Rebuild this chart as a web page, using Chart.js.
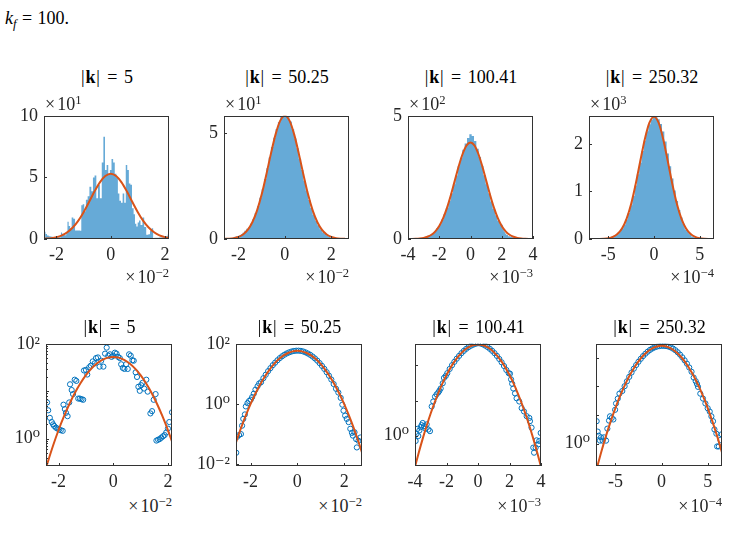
<!DOCTYPE html>
<html lang="en">
<head>
<meta charset="UTF-8">
<title>Histograms and Gaussian fits</title>
<script src="https://cdn.jsdelivr.net/npm/chart.js"></script>
<style>
  body { margin: 0; background: #fff; }
  #fig { position: relative; width: 730px; height: 560px; overflow: hidden;
         font-family: "Liberation Serif", "DejaVu Serif", serif; color: #262626; }
  #fig canvas { position: absolute; }
  .lbl { position: absolute; font-size: 18px; line-height: 1; white-space: nowrap; }
  .lbl sup { font-size: 0.7em; vertical-align: 0.5em; line-height: 0; }
  .lbl sub { font-size: 0.7em; vertical-align: -0.3em; line-height: 0; }
  .ttl { color: #000; transform: translate(-50%, -50%); }
  .ttl .eq { margin: 0 0.36em; }
  .ttl .bar { margin: 0 0.05em; }
  .times { margin-right: 0.12em; }
  .ey { transform: translate(0, -50%); }
  .ex { transform: translate(-100%, -50%); }
</style>
</head>
<body>
<div id="fig">
  <div class="lbl" style="left:5px;top:9px;color:#000"><i>k</i><sub><i>f</i></sub><span style="margin:0 0.3em">=</span>100.</div>
</div>

<script>
// |k| = 5  (x in units of 1e-2, y = pdf)
const k5X = [-2.42,-2.38,-2.32,-2.25,-2.2,-2.16,-2.1,-2.04,-1.98,-1.92,-1.85,-1.82,-1.77,-1.73,-1.67,-1.61,-1.58,-1.52,-1.47,-1.41,-1.35,-1.28,-1.22,-1.16,-1.1,-1.07,-1.0,-0.95,-0.88,-0.82,-0.75,-0.68,-0.63,-0.56,-0.5,-0.44,-0.36,-0.3,-0.24,-0.18,-0.12,-0.06,0,0.06,0.12,0.18,0.24,0.29,0.35,0.41,0.47,0.53,0.58,0.64,0.7,0.75,0.82,0.87,0.92,0.97,1.02,1.07,1.13,1.21,1.26,1.36,1.42,1.48,1.55,1.58,1.64,1.7,1.76,1.82,1.88,1.94,2.0,2.05,2.15];
const k5Y = [5.8,3.96,2.75,2.24,2.0,1.85,1.71,1.63,1.56,1.51,1.46,5.2,4.2,3.5,2.98,5.8,14,10.6,8.7,17.5,16.5,7.0,7.0,6.8,6.6,27.4,28.2,22.5,31.9,34.6,42.5,38.7,50,51.6,33,44,33,62,83,56,60,53,56,65,62,53,50,37,31,29.5,37,29.5,60,56,45,44,25,20,12.4,10.2,13.4,15,11.4,17.5,9.8,3.4,3.8,6.6,8.7,0.91,0.95,0.98,1.05,1.12,1.19,1.35,1.63,2.24,3.6];
const k5FitX = [-2.46,-2.2,-2.0,-1.8,-1.6,-1.4,-1.2,-1.0,-0.8,-0.6,-0.4,-0.2,0,0.2,0.4,0.6,0.8,1.0,1.2,1.4,1.6,1.8,2.0,2.15];
const k5FitY = [0.244,0.716,1.52,2.97,5.44,9.29,14.7,21.8,30.0,38.5,46.0,51.1,53.0,51.1,46.0,38.5,30.0,21.8,14.7,9.29,5.44,2.97,1.52,0.871];

// |k| = 50.25  (x in units of 1e-2)
const k50X = [-2.61,-2.57,-2.49,-2.41,-2.36,-2.31,-2.24,-2.2,-2.13,-2.06,-1.99,-1.93,-1.86,-1.79,-1.7,-1.63,-1.55,-1.45,-1.35,-1.25,-1.15,-1.05,-0.95,-0.85,-0.75,-0.65,-0.55,-0.45,-0.35,-0.25,-0.15,-0.05,0.05,0.15,0.25,0.35,0.45,0.55,0.65,0.75,0.85,0.95,1.05,1.15,1.25,1.35,1.45,1.55,1.65,1.75,1.85,1.92,1.97,2.04,2.11,2.19,2.26,2.33,2.37,2.44,2.51,2.54,2.61,2.69];
const k50Y = [0.024,0.081,0.093,0.1,0.19,0.32,0.45,0.83,1.07,1.26,1.39,1.7,2.2,3.0,3.9,4.8,5.3,7.2,9.4,12.3,15.5,19.5,23.6,28.4,33.5,38.6,43.5,47.9,52.0,55.4,57.8,59.0,59.2,58.1,55.6,51.9,47.6,42.9,37.8,32.6,27.6,22.8,18.5,14.7,11.4,8.7,6.5,4.6,3.2,2.4,1.6,0.95,0.6,0.41,0.32,0.25,0.15,0.11,0.089,0.115,0.068,0.036,0.06,0.077];
const k50FitX = [-2.62,-2.4,-2.2,-2.0,-1.8,-1.6,-1.4,-1.2,-1.0,-0.8,-0.6,-0.4,-0.2,0,0.2,0.4,0.6,0.8,1.0,1.2,1.4,1.6,1.8,2.0,2.2,2.4,2.6,2.76];
const k50FitY = [0.0532,0.164,0.418,0.986,2.14,4.28,7.90,13.4,21.0,30.4,40.4,49.5,56.0,58.3,56.0,49.5,40.4,30.4,21.0,13.4,7.90,4.28,2.14,0.986,0.418,0.164,0.0589,0.0246];

// |k| = 100.41  (x in units of 1e-3)
const k100X = [-3.96,-3.9,-3.85,-3.79,-3.72,-3.64,-3.58,-3.51,-3.43,-3.34,-3.26,-3.15,-3.05,-2.94,-2.84,-2.73,-2.63,-2.52,-2.45,-2.37,-2.24,-2.16,-2.05,-1.95,-1.8,-1.65,-1.5,-1.35,-1.2,-1.05,-0.9,-0.75,-0.6,-0.45,-0.3,-0.15,0,0.15,0.3,0.45,0.6,0.75,0.9,1.05,1.2,1.35,1.5,1.65,1.8,1.95,2.03,2.1,2.17,2.24,2.35,2.45,2.62,2.77,2.92,3.09,3.26,3.3,3.4,3.51,3.56,3.66,3.72,3.83,3.89,3.98];
const k100Y = [0.71,1.14,1.57,0.98,1.41,1.75,2.0,2.3,1.87,1.6,2.1,1.5,1.35,6.8,9.4,12.9,15,17,19,22,31,44,50,60,79,101,126,155,186,222,258,295,330,362,388,410,425,418,398,366,333,296,259,222,186,152,122,96,74,60,58,40,30,22,16,11.6,9.4,6.1,4.9,3.6,3.2,2.6,1.7,0.46,0.33,0.46,0.74,0.57,0.71,1.2];
const k100FitX = [-4,-3.75,-3.5,-3.25,-3,-2.75,-2.5,-2.25,-2,-1.75,-1.5,-1.25,-1,-0.75,-0.5,-0.25,0,0.25,0.5,0.75,1,1.25,1.5,1.75,2,2.25,2.5,2.75,3,3.25,3.5,3.75,4];
const k100FitY = [0.131,0.346,0.857,1.99,4.36,8.93,17.2,31.2,53.0,84.8,127.3,179.5,238,296,346,380,392,380,346,296,238,179.5,127.3,84.8,53.0,31.2,17.2,8.93,4.36,1.99,0.857,0.346,0.131];

// |k| = 250.32  (x in units of 1e-4)
const k250X = [-7.03,-6.92,-6.81,-6.67,-6.56,-6.38,-6.23,-6.01,-5.87,-5.69,-5.58,-5.4,-5.22,-5.03,-4.93,-4.74,-4.56,-4.25,-4.0,-3.75,-3.5,-3.25,-3.0,-2.75,-2.5,-2.25,-2.0,-1.75,-1.5,-1.25,-1.0,-0.75,-0.5,-0.25,0,0.25,0.5,0.75,1.0,1.25,1.5,1.75,2.0,2.25,2.5,2.75,3.0,3.25,3.48,3.7,3.84,3.95,4.2,4.49,4.75,5.0,5.22,5.4,5.58,5.73,5.94,6.02,6.2,6.38,6.52];
const k250Y = [6.0,2.6,1.87,1.26,1.64,1.26,1.64,1.26,3.3,6.3,8.9,7.8,6.9,15,25,37,55,68,100,148,212,300,410,548,712,905,1125,1360,1605,1850,2070,2265,2410,2510,2555,2560,2520,2420,2260,2050,1800,1530,1270,1020,800,610,450,320,200,150,120,95,55,37,25,17,13,8.9,6.0,3.1,2.2,0.79,0.79,1.33,2.1];
const k250FitX = [-7.1,-6.5,-6,-5.5,-5,-4.5,-4,-3.5,-3,-2.5,-2,-1.5,-1,-0.5,0,0.5,1,1.5,2,2.5,3,3.5,4,4.5,5,5.5,6,6.5,6.55];
const k250FitY = [0.107,0.55,1.92,6.06,17.3,44.8,104.8,222,425,736,1155,1639,2104,2445,2570,2445,2104,1639,1155,736,425,222,104.8,44.8,17.3,6.06,1.92,0.55,0.483];

const kLabels = ['5', '50.25', '100.41', '250.32'];
const histX = [k5X, k50X, k100X, k250X];
const histY = [k5Y, k50Y, k100Y, k250Y];
const fitX = [k5FitX, k50FitX, k100FitX, k250FitX];
const fitY = [k5FitY, k50FitY, k100FitY, k250FitY];

const xRanges = [[-2.46, 2.15], [-2.62, 2.76], [-4, 4], [-7.1, 6.55]];
const xTicks = [[-2, 0, 2], [-2, 0, 2], [-4, -2, 0, 2, 4], [-5, 0, 5]];
const xExp = ['−2', '−2', '−3', '−4'];

const histYMax = [100, 58.3, 500, 2590];
const histYTicks = [[0, 50, 100], [0, 50], [0, 500], [0, 1000, 2000]];
const histYExp = [1, 1, 2, 3];

const logYRanges = [[0.265, 100], [0.0087, 100], [0.138, 410], [0.164, 3020]];
const logYLabels = [[1, 100], [0.01, 1, 100], [1], [1]];
const logYMarks = [[1, 10, 100], [0.01, 1, 100], [1, 10, 100], [1, 10, 100, 1000]];
const logYMinor = [true, false, false, false];

// plot-area boxes
const topBoxes = [{x: 44, y: 113, w: 125, h: 126}, {x: 224, y: 113, w: 125, h: 126},
                  {x: 408, y: 113, w: 125, h: 126}, {x: 589, y: 113, w: 125, h: 126}];
const botBoxes = [{x: 46, y: 341, w: 126, h: 125}, {x: 236, y: 341, w: 126, h: 125},
                  {x: 415, y: 341, w: 126, h: 125}, {x: 596, y: 341, w: 126, h: 125}];

const fig = document.getElementById('fig');
const inkColor = '#262626';
const tickFont = {family: "'Liberation Serif', 'DejaVu Serif', serif", size: 18};
const blue = 'rgba(0,114,189,0.6)';
const orange = '#D95319';

function pts(xs, ys) { return xs.map((x, i) => ({x: x, y: ys[i]})); }

function supText(n) {
  const m = {'-': '⁻', '0': '⁰', '1': '¹', '2': '²', '3': '³', '4': '⁴'};
  return String(n).split('').map(c => m[c]).join('');
}

// axes box + inward tick marks
const frame = {
  id: 'frame',
  afterDraw(chart, args, o) {
    const ctx = chart.ctx, a = chart.chartArea;
    const xs = chart.scales.x, ys = chart.scales.y;
    ctx.save();
    ctx.strokeStyle = '#333';
    ctx.lineWidth = 1;
    ctx.beginPath();
    o.xMarks.forEach(v => {
      const p = Math.round(xs.getPixelForValue(v)) + 0.5;
      ctx.moveTo(p, a.bottom); ctx.lineTo(p, a.bottom - 3);
    });
    o.yMarks.forEach(v => {
      const p = Math.round(ys.getPixelForValue(v)) + 0.5;
      ctx.moveTo(a.left, p); ctx.lineTo(a.left + 3, p);
    });
    if (o.minor) {
      for (let d = -1; d <= 3; d++) {
        for (let m = 2; m <= 9; m++) {
          const v = m * Math.pow(10, d);
          if (v <= ys.min || v >= ys.max) continue;
          const p = Math.round(ys.getPixelForValue(v)) + 0.5;
          ctx.moveTo(a.left, p); ctx.lineTo(a.left + 2, p);
        }
      }
    }
    ctx.stroke();
    ctx.strokeRect(Math.round(a.left) + 0.5, Math.round(a.top) + 0.5,
                   Math.round(a.right - a.left) - 1, Math.round(a.bottom - a.top) - 1);
    ctx.restore();
  }
};

function addLabel(html, x, y, cls) {
  const d = document.createElement('div');
  d.className = 'lbl ' + cls;
  d.innerHTML = html;
  d.style.left = x + 'px';
  d.style.top = y + 'px';
  fig.appendChild(d);
}

function makePanel(box, datasets, xr, xt, yScale, marks, minor) {
  const cv = document.createElement('canvas');
  cv.width = box.w + 54;
  cv.height = box.h + 42;
  cv.style.left = (box.x - 44) + 'px';
  cv.style.top = (box.y - 14) + 'px';
  fig.appendChild(cv);
  new Chart(cv, {
    type: 'line',
    data: {datasets: datasets},
    options: {
      responsive: false,
      animation: false,
      events: [],
      layout: {padding: {top: 14, right: 10, left: 0, bottom: 0}},
      plugins: {
        legend: {display: false},
        tooltip: {enabled: false},
        frame: {xMarks: xt, yMarks: marks, minor: minor}
      },
      scales: {
        x: {
          type: 'linear', min: xr[0], max: xr[1],
          grid: {display: false, drawTicks: false},
          border: {display: false},
          afterFit: s => { s.height = 28; },
          afterBuildTicks: s => { s.ticks = xt.map(v => ({value: v})); },
          ticks: {autoSkip: false, maxRotation: 0, padding: 5, color: inkColor, font: tickFont,
                  callback: v => String(v)}
        },
        y: Object.assign({
          grid: {display: false, drawTicks: false},
          border: {display: false},
          afterFit: s => { s.width = 44; }
        }, yScale)
      }
    },
    plugins: [frame]
  });
}

for (let i = 0; i < 4; i++) {
  const hist = pts(histX[i], histY[i]);
  const fit = pts(fitX[i], fitY[i]);
  const f = Math.pow(10, histYExp[i]);

  // top row: histogram + fit
  const tb = topBoxes[i];
  makePanel(tb, [
    {data: fit, borderColor: orange, borderWidth: 2, pointRadius: 0,
     cubicInterpolationMode: 'monotone', fill: false, order: 0},
    {data: hist, stepped: 'middle', fill: 'origin', backgroundColor: blue,
     borderWidth: 0, pointRadius: 0, order: 1}
  ], xRanges[i], xTicks[i], {
    type: 'linear', min: 0, max: histYMax[i],
    afterBuildTicks: s => { s.ticks = histYTicks[i].map(v => ({value: v})); },
    ticks: {autoSkip: false, padding: 6, color: inkColor, font: tickFont,
            callback: v => String(Math.round(v / f * 10) / 10)}
  }, histYTicks[i], false);

  // bottom row: log-scale points + fit
  const bb = botBoxes[i];
  makePanel(bb, [
    {data: fit, borderColor: orange, borderWidth: 2, pointRadius: 0,
     cubicInterpolationMode: 'monotone', fill: false, order: 0},
    {type: 'scatter', data: hist, pointRadius: 2.6, pointBorderWidth: 1,
     pointBorderColor: '#0072BD', pointBackgroundColor: 'rgba(0,0,0,0)', order: 1}
  ], xRanges[i], xTicks[i], {
    type: 'logarithmic', min: logYRanges[i][0], max: logYRanges[i][1],
    afterBuildTicks: s => { s.ticks = logYLabels[i].map(v => ({value: v})); },
    ticks: {autoSkip: false, padding: 6, color: inkColor, font: tickFont,
            callback: v => '10' + supText(Math.round(Math.log10(v)))}
  }, logYMarks[i], logYMinor[i]);

  // titles and exponent labels
  const title = '<span class="bar">|</span><b>k</b><span class="bar">|</span><span class="eq">=</span>' + kLabels[i];
  addLabel(title, tb.x + tb.w / 2, 77, 'ttl');
  addLabel(title, bb.x + bb.w / 2, 327, 'ttl');
  addLabel('<span class="times">×</span>10<sup>' + histYExp[i] + '</sup>', tb.x + 1, 104, 'ey');
  addLabel('<span class="times">×</span>10<sup>' + xExp[i] + '</sup>', tb.x + tb.w, 277, 'ex');
  addLabel('<span class="times">×</span>10<sup>' + xExp[i] + '</sup>', bb.x + bb.w, 506, 'ex');
}
</script>
</body>
</html>
